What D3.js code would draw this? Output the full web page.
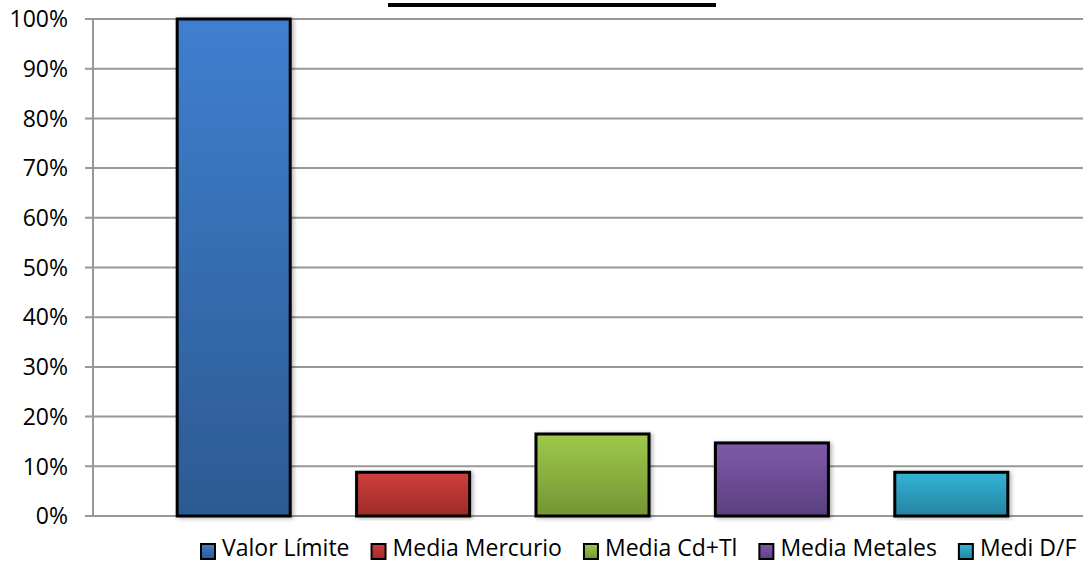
<!DOCTYPE html>
<html>
<head>
<meta charset="utf-8">
<script src="https://cdn.jsdelivr.net/npm/d3@7"></script>
<style>
  body { margin: 0; background: #fff; }
  text { font-family: "Open Sans", Lato, sans-serif; fill: #000; }
</style>
</head>
<body>
<svg id="chart" width="1083" height="562"></svg>
<script>
// data
var series = ["Valor Límite", "Media Mercurio", "Media Cd+Tl", "Media Metales", "Medi D/F"];
var values = [1.0, 0.088, 0.165, 0.147, 0.088];
var topColors = ["#3f7fcf", "#d03f3c", "#9fc94c", "#8059aa", "#34b4d8"];
var botColors = ["#2c5a92", "#9c2b29", "#739533", "#5b4080", "#24849f"];
var yTicks = [0, 0.1, 0.2, 0.3, 0.4, 0.5, 0.6, 0.7, 0.8, 0.9, 1.0];

var svg = d3.select("#chart");
var defs = svg.append("defs");

series.forEach(function(s, i) {
    var gr = defs.append("linearGradient")
        .attr("id", "grad" + i)
        .attr("x1", 0).attr("y1", 0).attr("x2", 0).attr("y2", 1);
    gr.append("stop").attr("offset", "0%").attr("stop-color", topColors[i]);
    gr.append("stop").attr("offset", "100%").attr("stop-color", botColors[i]);
});

var f = defs.append("filter").attr("id", "shadow")
    .attr("x", "-10%").attr("y", "-10%").attr("width", "130%").attr("height", "120%");
f.append("feDropShadow").attr("dx", 2).attr("dy", 1).attr("stdDeviation", 2)
    .attr("flood-color", "#000").attr("flood-opacity", 0.3);

var plotL = 93, plotR = 1083, plotT = 19, plotB = 516;

var y = d3.scaleLinear().domain([0, 1]).range([plotB, plotT]);
var x = d3.scaleBand().domain(series).range([144, 1041]).paddingInner(0.37).paddingOuter(0.185);

// title underline (title itself is cropped off)
svg.append("rect").attr("x", 388).attr("y", 3).attr("width", 328).attr("height", 4).attr("fill", "#000");

// gridlines
svg.append("g").selectAll("line")
    .data(yTicks)
    .enter().append("line")
    .attr("x1", plotL - 8).attr("x2", plotR)
    .attr("y1", function(d) { return y(d); })
    .attr("y2", function(d) { return y(d); })
    .attr("stroke", "#989898")
    .attr("stroke-width", 2);

// y axis line
svg.append("line")
    .attr("x1", plotL).attr("x2", plotL)
    .attr("y1", plotT).attr("y2", plotB)
    .attr("stroke", "#989898").attr("stroke-width", 2);

// y labels
svg.append("g").selectAll("text")
    .data(yTicks)
    .enter().append("text")
    .attr("x", 68)
    .attr("y", function(d) { return y(d); })
    .attr("dy", "0.36em")
    .attr("text-anchor", "end")
    .style("font-size", "23px")
    .text(d3.format(".0%"));

// bars
svg.append("g").selectAll("rect")
    .data(values)
    .enter().append("rect")
    .attr("x", function(d, i) { return x(series[i]); })
    .attr("y", function(d) { return y(d); })
    .attr("width", x.bandwidth())
    .attr("height", function(d) { return plotB - y(d); })
    .attr("fill", function(d, i) { return "url(#grad" + i + ")"; })
    .attr("stroke", "#000")
    .attr("stroke-width", 3)
    .attr("filter", "url(#shadow)");

// legend
var lg = svg.append("g");
var lx = 200;
series.forEach(function(s, i) {
    lg.append("rect")
        .attr("x", lx + 1).attr("y", 544)
        .attr("width", 14).attr("height", 15)
        .attr("fill", "url(#grad" + i + ")")
        .attr("stroke", "#000").attr("stroke-width", 2);
    var t = lg.append("text")
        .attr("x", lx + 22).attr("y", 556)
        .style("font-size", "23px")
        .text(s);
    lx = lx + 22 + t.node().getComputedTextLength() + 21;
});
</script>
</body>
</html>
